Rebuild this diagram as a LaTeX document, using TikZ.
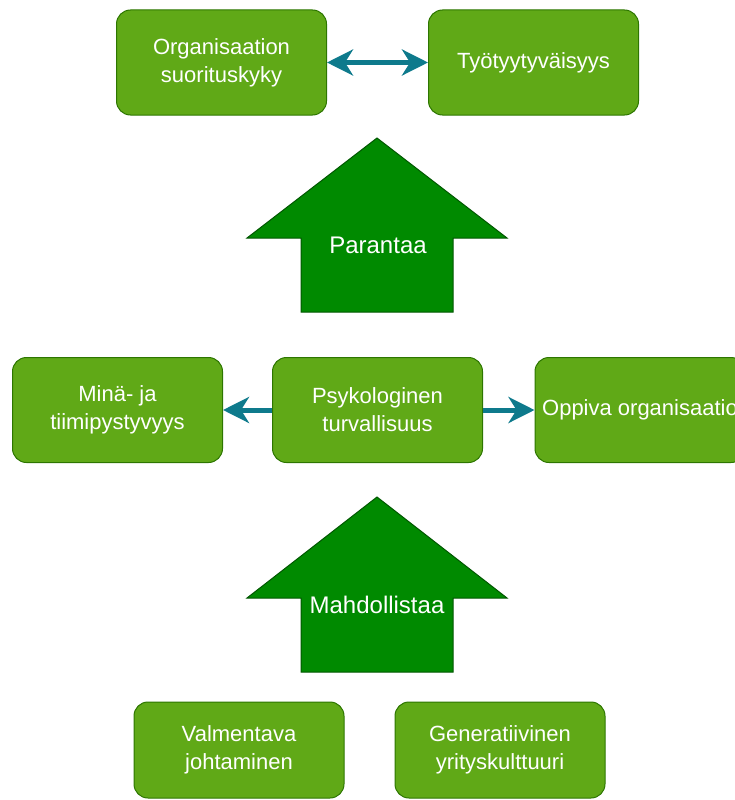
\documentclass[tikz,border=0pt]{standalone}
\usepackage{fontspec}
\setmainfont{Liberation Sans}
\usetikzlibrary{arrows.meta}
\definecolor{boxfill}{HTML}{60A917}
\definecolor{boxline}{HTML}{2D7600}
\definecolor{bigfill}{HTML}{008A00}
\definecolor{bigline}{HTML}{005700}
\definecolor{linkcol}{RGB}{14,122,140}
\begin{document}
\begin{tikzpicture}[x=1pt,y=-1pt,
  box/.style={draw=boxline,fill=boxfill,line width=1pt,rounded corners=14pt,
    minimum width=210pt,minimum height=105pt,inner sep=0pt,align=center,
    text=white,font=\fontsize{22}{28}\selectfont},
  bigarrow/.style={draw=bigline,fill=bigfill,line width=1pt},
  bigtext/.style={text=white,font=\fontsize{24}{28}\selectfont},
  link/.style={draw=linkcol,line width=5pt,
    -{Stealth[length=26pt,width=26pt,inset=8pt]}}]
\path[use as bounding box,clip] (0,0) rectangle (735,800);

% top row
\node[box] (org) at (221.5,62.5) {Organisaation\\suorituskyky};
\node[box] (tyo) at (533.5,62.5) {Työtyytyväisyys};
\draw[link,{Stealth[length=26pt,width=26pt,inset=8pt]}-{Stealth[length=26pt,width=26pt,inset=8pt]}] (org) -- (tyo);

% Parantaa
\filldraw[bigarrow] (377,138) -- (507,238) -- (453,238) -- (453,312) -- (301,312) -- (301,238) -- (247,238) -- cycle;
\node[bigtext] (par) at (378,245) {Parantaa};

% middle row
\node[box] (mina) at (117.5,410) {Minä- ja\\tiimipystyvyys};
\node[box] (psyk) at (377.5,410) {Psykologinen\\turvallisuus};
\node[box] (opp) at (640,410) {Oppiva organisaatio};
\draw[link] (psyk) -- (mina);
\draw[link] (psyk) -- (opp);

% Mahdollistaa
\filldraw[bigarrow] (377,497) -- (507,598) -- (453,598) -- (453,672) -- (301,672) -- (301,598) -- (247,598) -- cycle;
\node[bigtext] (mahd) at (377,605) {Mahdollistaa};

% bottom row
\node[box,minimum height=96pt] (valm) at (239,750) {Valmentava\\johtaminen};
\node[box,minimum height=96pt] (gen) at (500,750) {Generatiivinen\\yrityskulttuuri};
\end{tikzpicture}
\end{document}
